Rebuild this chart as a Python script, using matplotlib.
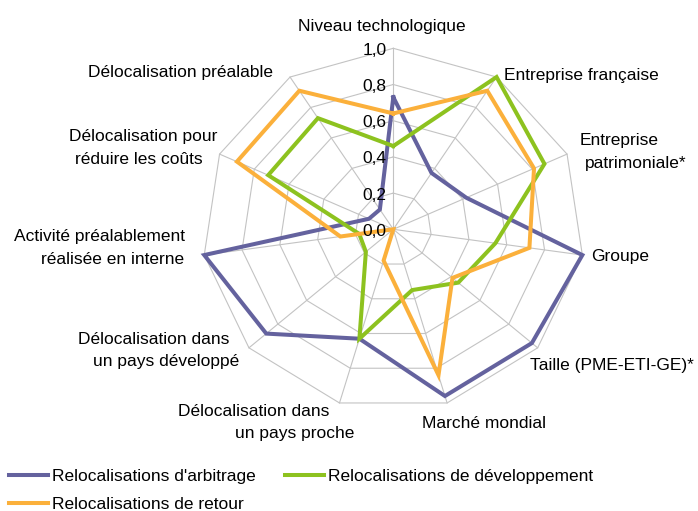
import numpy as np
import matplotlib.pyplot as plt
from matplotlib.lines import Line2D

plt.rcParams['font.family'] = ['Liberation Sans', 'DejaVu Sans']

# axes of the radar, clockwise from the top
categories = [
    "Niveau technologique",
    "Entreprise française",
    "Entreprise\npatrimoniale*",
    "Groupe",
    "Taille (PME-ETI-GE)*",
    "Marché mondial",
    "Délocalisation dans\nun pays proche",
    "Délocalisation dans\nun pays développé",
    "Activité préalablement\nréalisée en interne",
    "Délocalisation pour\nréduire les coûts",
    "Délocalisation préalable",
]
series_names = ["Relocalisations d'arbitrage",
                "Relocalisations de développement",
                "Relocalisations de retour"]
arbitrage = [0.73, 0.37, 0.42, 1.00, 0.96, 0.96, 0.63, 0.88, 1.00, 0.14, 0.13]
developpement = [0.46, 1.00, 0.87, 0.54, 0.45, 0.35, 0.63, 0.19, 0.18, 0.72, 0.73]
retour = [0.64, 0.91, 0.81, 0.72, 0.41, 0.84, 0.18, 0.00, 0.28, 0.90, 0.91]
ticks = [0.0, 0.2, 0.4, 0.6, 0.8, 1.0]

colors = ["#64629e", "#8dc21f", "#fbb03b"]

# layout (pixels): figure size, radar centre and radii
W, H = 698, 511
cx, cy = 393.3, 229.3
rx, ry = 191.0, 181.0
FS = 12.5

# centre of each text line of the category labels
label_pos = [
    [(382, 26)],
    [(581, 75)],
    [(619, 140), (636, 163)],
    [(620, 256)],
    [(612, 365)],
    [(484, 423)],
    [(254, 411), (295, 433)],
    [(154, 339), (166, 361)],
    [(100, 236), (113, 259)],
    [(143, 137), (139, 160)],
    [(181, 73)],
]

fig = plt.figure(figsize=(W / 100, H / 100), dpi=100)
ax = fig.add_axes([0, 0, 1, 1])
ax.set_xlim(-cx / rx, (W - cx) / rx)
ax.set_ylim(-(H - cy) / ry, cy / ry)
ax.axis("off")

n = len(categories)
theta = np.arange(n) * 2 * np.pi / n
sx, sy = np.sin(theta), np.cos(theta)


def closed(a):
    return np.append(a, a[0])


# polygonal grid and spokes
for t in ticks[1:]:
    ax.plot(closed(t * sx), closed(t * sy), color="#c3c3c3", lw=0.8, zorder=1)
for i in range(n):
    ax.plot([0, sx[i]], [0, sy[i]], color="#c3c3c3", lw=0.8, zorder=1)

# value labels sit above the series
for t in ticks:
    ax.text(-7 / rx, t - 2 / ry, f"{t:.1f}".replace(".", ","), ha="right",
            va="center", fontsize=FS, zorder=5)

# series
handles = []
for vals, col, name in zip([arbitrage, developpement, retour], colors, series_names):
    v = np.array(vals)
    ax.plot(closed(v * sx), closed(v * sy), color=col, lw=2.9,
            solid_joinstyle="miter", zorder=3)
    handles.append(Line2D([], [], color=col, lw=2.9, label=name))

# category labels
for name, pos in zip(categories, label_pos):
    for line, (px, py) in zip(name.split("\n"), pos):
        fig.text(px / W, 1 - py / H, line, ha="center", va="center", fontsize=FS)

leg_kw = dict(frameon=False, fontsize=FS, handlelength=2.25, handletextpad=0.2,
              borderpad=0, borderaxespad=0, labelspacing=0.73, loc="upper left")
fig.legend(handles=[handles[0], handles[2]], bbox_to_anchor=(9 / W, 1 - 469 / H), **leg_kw)
fig.legend(handles=[handles[1]], bbox_to_anchor=(285 / W, 1 - 469 / H), **leg_kw)

fig.savefig("out.png", dpi=100)
